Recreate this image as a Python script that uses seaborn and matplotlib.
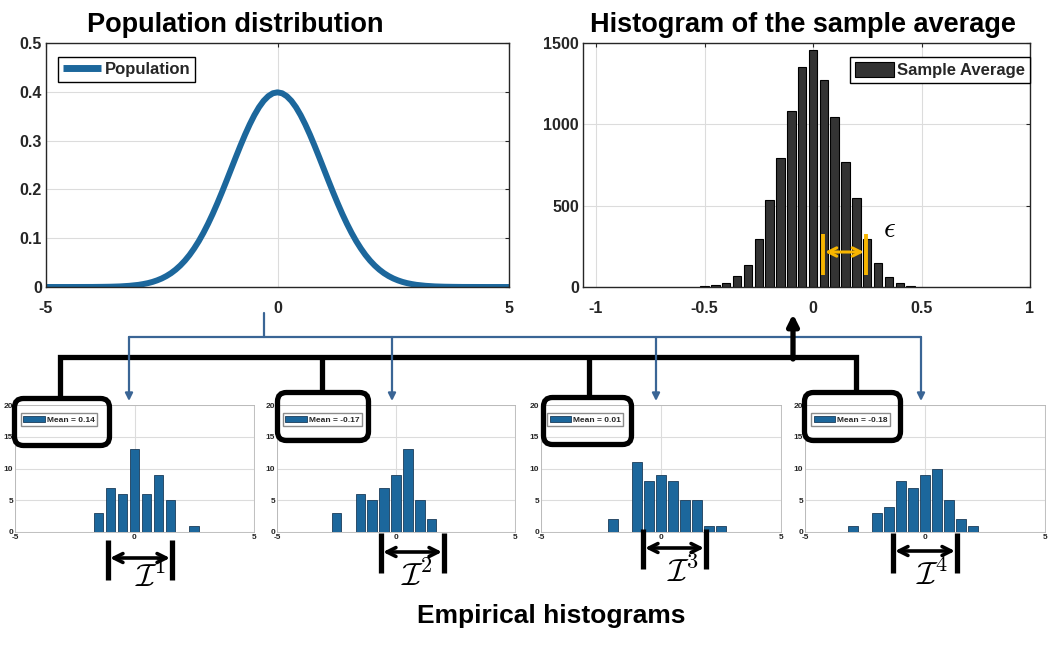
import numpy as np
import matplotlib
matplotlib.use("Agg")
import matplotlib.pyplot as plt
from matplotlib.patches import Patch, FancyBboxPatch
from matplotlib.lines import Line2D
import seaborn as sns

# --- data ---
# population density (standard normal), right half; the curve is symmetric about 0
pop_x_half = [0.0, 0.1, 0.2, 0.3, 0.4, 0.5, 0.6, 0.7, 0.8, 0.9,
              1.0, 1.1, 1.2, 1.3, 1.4, 1.5, 1.6, 1.7, 1.8, 1.9,
              2.0, 2.1, 2.2, 2.3, 2.4, 2.5, 2.6, 2.7, 2.8, 2.9,
              3.0, 3.2, 3.4, 3.6, 3.8, 4.0, 4.5, 5.0]
pop_y_half = [0.3989, 0.3970, 0.3910, 0.3814, 0.3683, 0.3521, 0.3332, 0.3123, 0.2897, 0.2661,
              0.2420, 0.2179, 0.1942, 0.1714, 0.1497, 0.1295, 0.1109, 0.0940, 0.0790, 0.0656,
              0.0540, 0.0440, 0.0355, 0.0283, 0.0224, 0.0175, 0.0136, 0.0104, 0.0079, 0.0060,
              0.0044, 0.0024, 0.0012, 0.0006, 0.0003, 0.0001, 0.0, 0.0]
pop_x = [-v for v in pop_x_half[:0:-1]] + pop_x_half
pop_y = pop_y_half[:0:-1] + pop_y_half

# histogram of the sample average (bin width 0.05)
avg_centers = [-0.5, -0.45, -0.4, -0.35, -0.3, -0.25, -0.2, -0.15, -0.1, -0.05,
               0.0, 0.05, 0.1, 0.15, 0.2, 0.25, 0.3, 0.35, 0.4, 0.45]
avg_counts = [8, 12, 25, 67, 135, 294, 533, 796, 1084, 1353,
              1457, 1273, 1047, 771, 545, 294, 147, 61, 24, 6]

# four empirical histograms (bin width 0.5, n = 50)
s1_centers = [-1.5, -1.0, -0.5, 0.0, 0.5, 1.0, 1.5, 2.5]
s1_counts = [3, 7, 6, 13, 6, 9, 5, 1]
s2_centers = [-2.5, -1.5, -1.0, -0.5, 0.0, 0.5, 1.0, 1.5]
s2_counts = [3, 6, 5, 7, 9, 13, 5, 2]
s3_centers = [-2.0, -1.0, -0.5, 0.0, 0.5, 1.0, 1.5, 2.0, 2.5]
s3_counts = [2, 11, 8, 9, 8, 5, 5, 1, 1]
s4_centers = [-3.0, -2.0, -1.5, -1.0, -0.5, 0.0, 0.5, 1.0, 1.5, 2.0]
s4_counts = [1, 3, 4, 8, 7, 9, 10, 5, 2, 1]
sample_means = ["0.14", "-0.17", "0.01", "-0.18"]
interval_names = [r"$\mathcal{I}^1$", r"$\mathcal{I}^2$", r"$\mathcal{I}^3$", r"$\mathcal{I}^4$"]

BLUE = "#1c679c"
BAR_EDGE = "#1b3c5a"
LINK_BLUE = "#3a6595"
TXT = "#262626"
GRID = "#dcdcdc"

sns.set_theme(style="white")
plt.rcParams["font.family"] = ["Liberation Sans", "DejaVu Sans"]
plt.rcParams["font.weight"] = "bold"
plt.rcParams["axes.unicode_minus"] = False
plt.rcParams["mathtext.fontset"] = "cm"

W, H = 1048, 647
fig = plt.figure(figsize=(W / 100, H / 100), dpi=100)


def px_axes(left, top, right, bottom):
    return fig.add_axes([left / W, (H - bottom) / H, (right - left) / W, (bottom - top) / H])


def style_axes(ax, size, spine_color, spine_w):
    ax.grid(True, color=GRID, lw=0.8)
    ax.set_axisbelow(True)
    for s in ax.spines.values():
        s.set_visible(True)
        s.set_color(spine_color)
        s.set_linewidth(spine_w)
    ax.tick_params(labelsize=size, colors=TXT, direction="in", length=3,
                   width=0.8, top=True, right=True, pad=3)
    ax.set_xlabel("")
    ax.set_ylabel("")


# --- population distribution ---
ax1 = px_axes(46, 43, 509, 287)
sns.lineplot(x=pop_x, y=pop_y, color=BLUE, lw=4.3, ax=ax1)
ax1.set_xlim(-5, 5)
ax1.set_ylim(0, 0.5)
ax1.set_xticks([-5, 0, 5])
ax1.set_xticklabels(["-5", "0", "5"])
ax1.set_yticks([0, 0.1, 0.2, 0.3, 0.4, 0.5])
ax1.set_yticklabels(["0", "0.1", "0.2", "0.3", "0.4", "0.5"])
style_axes(ax1, 11.5, TXT, 1.0)
ax1.tick_params(axis="x", pad=10)
ax1.legend(handles=[Line2D([], [], color=BLUE, lw=5, solid_capstyle="butt")],
           labels=["Population"],
           loc="upper left", bbox_to_anchor=(0.026, 0.943), borderaxespad=0,
           fontsize=12, frameon=True, fancybox=False, edgecolor="black",
           framealpha=1, handlelength=2.3, handletextpad=0.2, borderpad=0.3)

# --- histogram of the sample average ---
ax2 = px_axes(583, 43, 1030, 287)
avg_edges = (np.array(avg_centers) - 0.025).tolist() + [avg_centers[-1] + 0.025]
sns.histplot(x=avg_centers, weights=avg_counts, bins=avg_edges, shrink=0.78,
             color="#333333", edgecolor="black", linewidth=0.8, alpha=1, ax=ax2)
ax2.set_xlim(-1.06, 1.0)
ax2.set_ylim(0, 1500)
ax2.set_xticks([-1, -0.5, 0, 0.5, 1])
ax2.set_xticklabels(["-1", "-0.5", "0", "0.5", "1"])
ax2.set_yticks([0, 500, 1000, 1500])
ax2.set_yticklabels(["0", "500", "1000", "1500"])
style_axes(ax2, 11.5, TXT, 1.0)
ax2.tick_params(axis="x", pad=10)
ax2.legend(handles=[Patch(facecolor="#333333", edgecolor="black", lw=0.8)],
           labels=["Sample Average"], loc="upper right", bbox_to_anchor=(1.0, 0.943),
           borderaxespad=0, fontsize=12, frameon=True, fancybox=False,
           edgecolor="black", framealpha=1, handlelength=2.3, handleheight=1.0,
           handletextpad=0.2, borderpad=0.3)

# --- empirical histograms ---
small_pos = [(15, 254), (277, 515), (541, 781), (805, 1045)]
small_data = [(s1_centers, s1_counts), (s2_centers, s2_counts),
              (s3_centers, s3_counts), (s4_centers, s4_counts)]
for (l, r), (cen, cnt), mean in zip(small_pos, small_data, sample_means):
    ax = px_axes(l, 405, r, 532)
    nb = int(round((cen[-1] - cen[0]) / 0.5)) + 1
    edges = np.linspace(cen[0] - 0.25, cen[-1] + 0.25, nb + 1).tolist()
    sns.histplot(x=cen, weights=cnt, bins=edges, shrink=0.8, color=BLUE,
                 edgecolor=BAR_EDGE, linewidth=0.6, alpha=1, ax=ax)
    ax.set_xlim(-5, 5)
    ax.set_ylim(0, 20)
    ax.set_xticks([-5, 0, 5])
    ax.set_xticklabels(["-5", "0", "5"])
    ax.set_yticks([0, 5, 10, 15, 20])
    ax.set_yticklabels(["0", "5", "10", "15", "20"])
    style_axes(ax, 6, "#b5b5b5", 0.6)
    ax.tick_params(length=0, pad=1.5)
    ax.legend(handles=[Patch(facecolor=BLUE, edgecolor=BAR_EDGE, lw=0.6)],
              labels=["Mean = " + mean], loc="upper left",
              bbox_to_anchor=(0.025, 0.937), borderaxespad=0, fontsize=6,
              frameon=True, fancybox=False, edgecolor="#8c8c8c", framealpha=1,
              handlelength=2.6, handleheight=0.9, handletextpad=0.2, borderpad=0.3)

# --- overlay: titles, connectors, boxes, interval marks ---
ov = fig.add_axes([0, 0, 1, 1])
ov.set_xlim(0, W)
ov.set_ylim(H, 0)
ov.axis("off")

ov.text(235, 25, "Population distribution", ha="center", va="center", fontsize=19.5, color="black")
ov.text(803, 25, "Histogram of the sample average", ha="center", va="center", fontsize=19.5, color="black")
ov.text(551, 616, "Empirical histograms", ha="center", va="center", fontsize=19, color="black")

# black tree from the sample histograms up to the sample average
ov.plot([60, 60, 856, 856], [398, 357, 357, 391], color="black", lw=3.8,
        solid_joinstyle="miter", solid_capstyle="butt")
ov.plot([322, 322], [357, 392], color="black", lw=3.8, solid_capstyle="butt")
ov.plot([589, 589], [357, 396], color="black", lw=3.8, solid_capstyle="butt")
ov.annotate("", xy=(793, 314), xytext=(793, 359),
            arrowprops=dict(arrowstyle="-|>", color="black", lw=3.8,
                            mutation_scale=16, shrinkA=0, shrinkB=0))

# blue links from the population down to each sample
ov.plot([264, 264], [313, 337], color=LINK_BLUE, lw=1.6)
ov.plot([129, 921], [337, 337], color=LINK_BLUE, lw=1.6)
for x in [129, 392, 656, 921]:
    ov.annotate("", xy=(x, 401), xytext=(x, 337),
                arrowprops=dict(arrowstyle="-|>", color=LINK_BLUE, lw=1.6,
                                mutation_scale=11, shrinkA=0, shrinkB=0))

# rounded boxes around the legends
boxes = [(14.5, 398.5, 95, 47), (277.5, 392.5, 91, 48), (543.5, 397.5, 88, 47), (804.5, 392.5, 96, 48)]
for bx, by, bw, bh in boxes:
    ov.add_patch(FancyBboxPatch((bx, by), bw, bh, boxstyle="round,pad=0,rounding_size=9",
                                lw=3.8, ec="black", fc="none"))

# interval marks below each empirical histogram
intervals = [(108, 172, 540, 580, 558), (381, 444, 533, 573, 552),
             (643, 706, 529, 569, 548), (893, 957, 533, 573, 551)]
label_pos = [(150, 578), (417, 577), (683, 573), (932, 576)]
for (xa, xb, ya, yb, ym), (lx, ly), name in zip(intervals, label_pos, interval_names):
    ov.plot([xa, xa], [ya, yb], color="black", lw=3.8, solid_capstyle="butt")
    ov.plot([xb, xb], [ya, yb], color="black", lw=3.8, solid_capstyle="butt")
    ov.annotate("", xy=(xb - 2, ym), xytext=(xa + 2, ym),
                arrowprops=dict(arrowstyle="<->", color="black", lw=2.6,
                                mutation_scale=16, shrinkA=0, shrinkB=0))
    ov.text(lx, ly, name, ha="center", va="center", fontsize=23, color="black")

# epsilon marker on the sample-average histogram
YEL = "#f7b500"
ov.plot([823, 823], [234, 275], color=YEL, lw=2.8, solid_capstyle="butt")
ov.plot([866, 866], [234, 275], color=YEL, lw=2.8, solid_capstyle="butt")
ov.annotate("", xy=(864, 252), xytext=(825, 252),
            arrowprops=dict(arrowstyle="<->", color=YEL, lw=2.2,
                            mutation_scale=15, shrinkA=0, shrinkB=0))
ov.text(889, 229, r"$\epsilon$", ha="center", va="center", fontsize=21, color="black")

fig.savefig("out.png", dpi=100)
